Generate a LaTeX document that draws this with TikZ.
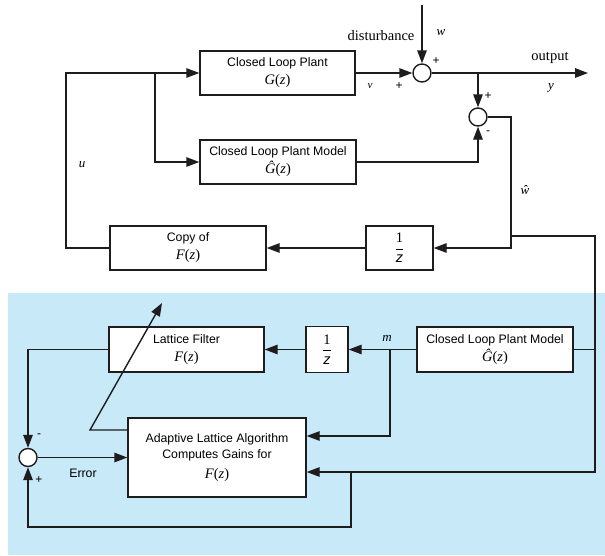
\documentclass[tikz,border=0pt]{standalone}
\usepackage{fontspec}
\setmainfont{Liberation Serif}
\setsansfont{Liberation Sans}
\usetikzlibrary{arrows.meta}
\definecolor{bgblue}{RGB}{199,233,248}
\definecolor{ln}{RGB}{30,28,29}
\newcommand{\myGz}{{\fontsize{14.5}{16}\rmfamily\textit{G}(\textit{z})}}
\newcommand{\myGhz}{{\fontsize{14.5}{16}\rmfamily\textit{Ĝ}(\textit{z})}}
\newcommand{\myFz}{{\fontsize{14.5}{16}\rmfamily\textit{F}(\textit{z})}}
\newcommand{\myInvz}{{\fontsize{14.5}{16}\selectfont$\displaystyle\frac{\textrm{1}}{\textit{z}}$}}
\begin{document}
\begin{tikzpicture}[x=1pt,y=-1pt,
  box/.style={draw=ln, fill=white, line width=1.4pt, inner sep=0pt, align=center,
    font=\fontsize{12.3}{16}\sffamily},
  sumc/.style={circle, draw=ln, fill=white, line width=1.4pt, minimum size=18pt, inner sep=0pt},
  wire/.style={draw=ln, line width=1.4pt},
  arr/.style={-{Triangle[length=13pt,width=9.5pt]}},
  lab/.style={font=\fontsize{14.5}{16}\rmfamily, inner sep=0pt},
  var/.style={font=\fontsize{13}{15}\rmfamily\itshape, inner sep=0pt},
  sgn/.style={font=\fontsize{12}{13}\sffamily, inner sep=0pt},
  slab/.style={font=\fontsize{12.3}{15}\sffamily, inner sep=0pt}]
\useasboundingbox (0,0) rectangle (605,555);
\fill[bgblue] (8,293) rectangle (605,555);

% upper blocks
\node[box, minimum width=155pt, minimum height=44pt] (plant) at (277.5,73) {Closed Loop Plant\\[2pt]\myGz};
\node[box, minimum width=156pt, minimum height=44pt] (model) at (278,162) {Closed Loop Plant Model\\[2pt]\myGhz};
\node[sumc] (sum1) at (422,73) {};
\node[sumc] (sum2) at (478,117) {};
\node[box, minimum width=156pt, minimum height=44pt] (copyf) at (188,248) {Copy of\\[2pt]\myFz};
\node[box, minimum width=67pt, minimum height=44pt] (dl1) at (399.5,248) {\myInvz};

% lower blocks
\node[box, minimum width=155pt, minimum height=45pt] (lattice) at (186.5,349.5) {Lattice Filter\\[2pt]\myFz};
\node[box, minimum width=42pt, minimum height=46pt] (dl2) at (327,349.5) {\myInvz};
\node[box, minimum width=156pt, minimum height=45pt] (lmodel) at (495,349.5) {Closed Loop Plant Model\\[2pt]\myGhz};
\node[box, minimum width=178pt, minimum height=79pt] (adapt) at (217,457.5) {Adaptive Lattice Algorithm\\Computes Gains for\\[4pt]\myFz};
\node[sumc] (sum3) at (28,457.5) {};

% coordinates
\coordinate (cL1) at (66,73);
\coordinate (cL2) at (66,248);
\coordinate (cB1) at (155,73);
\coordinate (cDist) at (422,5);
\coordinate (cOut) at (588,73);
\coordinate (cY) at (478,73);
\coordinate (cW) at (511,248);
\coordinate (cJ) at (511,236);
\coordinate (cR1) at (595,236);
\coordinate (cR2) at (595,349.5);
\coordinate (cR3) at (595,472);
\coordinate (cM) at (390,349.5);
\coordinate (cM2) at (390,436);
\coordinate (cB3) at (351,472);
\coordinate (cB4) at (351,527);
\coordinate (cT1) at (90,430);
\coordinate (cTip) at (162,303);

% upper connections
\draw[wire,arr] (copyf.west) -- (cL2) -- (cL1) -- (plant.west);
\draw[wire,arr] (cB1) |- (model.west);
\draw[wire,arr] (plant.east) -- (sum1.west);
\draw[wire,arr] (cDist) -- (sum1.north);
\draw[wire,arr] (sum1.east) -- (cOut);
\draw[wire,arr] (cY) -- (sum2.north);
\draw[wire,arr] (model.east) -| (sum2.south);
\draw[wire,arr] (sum2.east) -| (cW) -- (dl1.east);
\draw[wire,arr] (dl1.west) -- (copyf.east);

% lower connections
\draw[wire,arr] (cJ) -- (cR1) -- (cR3) -- (adapt.east |- cR3);
\draw[wire] (lmodel.east) -- (cR2);
\draw[wire,arr] (lmodel.west) -- (dl2.east);
\draw[wire,arr] (cM) -- (cM2) -- (adapt.east |- cM2);
\draw[wire,arr] (dl2.west) -- (lattice.east);
\draw[wire,arr] (lattice.west) -| (sum3.north);
\draw[wire,arr] (sum3.east) -- (adapt.west);
\draw[wire,arr] (cB3) -- (cB4) -| (sum3.south);
\draw[wire,arr] (adapt.west |- cT1) -- (cT1) -- (cTip);

% labels
\node[lab] (tdist) at (381,36) {disturbance};
\node[var] (tw) at (441,33) {w};
\node[sgn] (p1) at (436,61) {+};
\node[sgn] (p2) at (399,86) {+};
\node[var, font=\fontsize{11}{13}\rmfamily\itshape] (tv) at (370,86) {v};
\node[lab] (tout) at (550,58) {output};
\node[var] (ty) at (551,88) {y};
\node[sgn] (p3) at (488,96) {+};
\node[sgn] (m1) at (488,133) {-};
\node[var] (twh) at (525,190) {ŵ};
\node[var] (tu) at (82,165) {u};
\node[var] (tm) at (387,338) {m};
\node[slab] (terr) at (83,473) {Error};
\node[sgn] (m2) at (39,436) {-};
\node[sgn] (p4) at (39,480) {+};
\end{tikzpicture}
\end{document}
